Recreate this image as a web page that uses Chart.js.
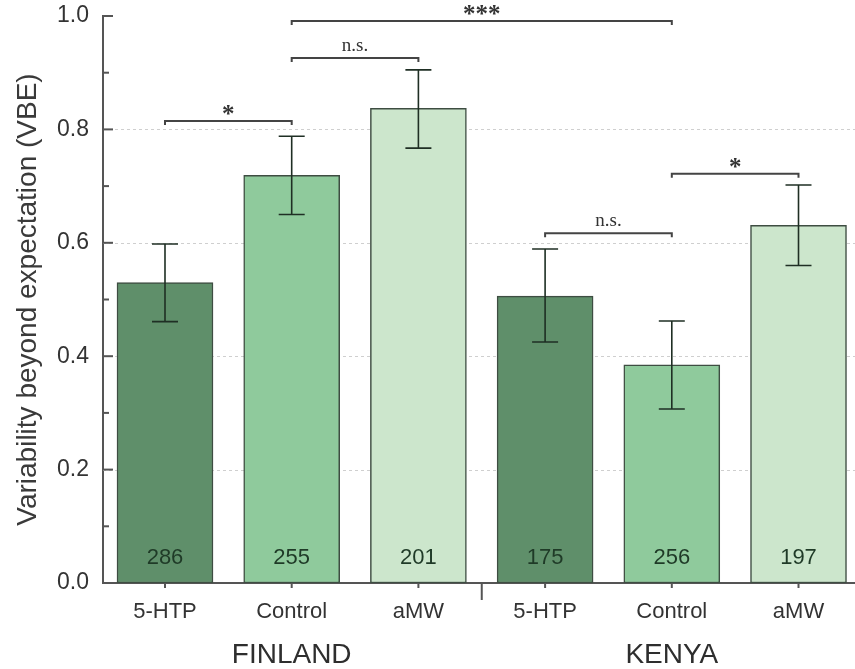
<!DOCTYPE html>
<html>
<head>
<meta charset="utf-8">
<script src="https://cdn.jsdelivr.net/npm/chart.js@4"></script>
<style>
  html, body { margin: 0; padding: 0; background: #fff; }
  #c { display: block; }
</style>
</head>
<body>
<canvas id="c" width="855" height="669"></canvas>
<script>
// Treatment categories within each country
const categories = ['5-HTP', 'Control', 'aMW', '5-HTP', 'Control', 'aMW'];
const groups = ['FINLAND', 'KENYA'];
const groupCenters = [1, 4];           // category index under which each country name sits

// Variability beyond expectation (mean) with error bar limits
const vbe     = [0.530, 0.719, 0.837, 0.506, 0.385, 0.631];
const errLow  = [0.461, 0.650, 0.767, 0.425, 0.307, 0.560];
const errHigh = [0.598, 0.788, 0.905, 0.589, 0.462, 0.702];

// Sample sizes printed inside the bars
const sampleSizes = [286, 255, 201, 175, 256, 197];

// Bar fill per treatment
const barColors = ['#5f8f6a', '#8fca9c', '#cce6cc', '#5f8f6a', '#8fca9c', '#cce6cc'];

// Significance brackets
const bracketFrom  = [0, 1, 1, 3, 4];
const bracketTo    = [1, 2, 4, 4, 5];
const bracketLevel = [0.815, 0.926, 0.991, 0.617, 0.722];
const bracketText  = ['*', 'n.s.', '***', 'n.s.', '*'];

// Y axis ticks
const yTicks = [0, 0.2, 0.4, 0.6, 0.8, 1.0];
const yMinorTicks = [0.1, 0.3, 0.5, 0.7, 0.9];

const SANS = "'Liberation Sans', Arial, sans-serif";
const SERIF = "'Liberation Serif', 'Times New Roman', serif";

const decorations = {
  id: 'decorations',
  beforeDatasetsDraw(chart) {
    const { ctx, chartArea: a, scales: { y } } = chart;
    ctx.save();
    ctx.strokeStyle = '#cfcfcf';
    ctx.lineWidth = 1;
    ctx.setLineDash([3, 3]);
    yTicks.filter(v => v > 0 && v < 1).forEach(v => {
      const py = Math.round(y.getPixelForValue(v)) + 0.5;
      ctx.beginPath();
      ctx.moveTo(a.left, py);
      ctx.lineTo(a.right, py);
      ctx.stroke();
    });
    ctx.restore();
  },
  afterDatasetsDraw(chart) {
    const { ctx, chartArea: a, scales: { x, y } } = chart;
    ctx.save();

    // error bars
    ctx.strokeStyle = '#1f2f24';
    ctx.lineWidth = 1.6;
    vbe.forEach((v, i) => {
      const px = x.getPixelForValue(i);
      const top = y.getPixelForValue(errHigh[i]);
      const bot = y.getPixelForValue(errLow[i]);
      ctx.beginPath();
      ctx.moveTo(px, top); ctx.lineTo(px, bot);
      ctx.moveTo(px - 13, top); ctx.lineTo(px + 13, top);
      ctx.moveTo(px - 13, bot); ctx.lineTo(px + 13, bot);
      ctx.stroke();
    });

    // sample sizes
    ctx.fillStyle = '#1f3a27';
    ctx.font = '22px ' + SANS;
    ctx.textAlign = 'center';
    ctx.textBaseline = 'middle';
    sampleSizes.forEach((n, i) => {
      ctx.fillText(String(n), x.getPixelForValue(i), a.bottom - 25);
    });

    // significance brackets
    ctx.strokeStyle = '#444';
    ctx.lineWidth = 2;
    ctx.fillStyle = '#333';
    bracketText.forEach((t, k) => {
      const x1 = x.getPixelForValue(bracketFrom[k]);
      const x2 = x.getPixelForValue(bracketTo[k]);
      const py = y.getPixelForValue(bracketLevel[k]);
      ctx.beginPath();
      ctx.moveTo(x1, py + 4); ctx.lineTo(x1, py); ctx.lineTo(x2, py); ctx.lineTo(x2, py + 4);
      ctx.stroke();
      const star = t.indexOf('*') >= 0;
      ctx.font = star ? 'bold 25px ' + SERIF : '19px ' + SERIF;
      ctx.textBaseline = 'alphabetic';
      ctx.fillText(t, (x1 + x2) / 2, star ? py + 1 : py - 7);
    });

    // inward y ticks
    ctx.strokeStyle = '#555';
    ctx.lineWidth = 2;
    yTicks.forEach(v => {
      const py = y.getPixelForValue(v);
      ctx.beginPath(); ctx.moveTo(a.left, py); ctx.lineTo(a.left + 10, py); ctx.stroke();
    });
    yMinorTicks.forEach(v => {
      const py = y.getPixelForValue(v);
      ctx.beginPath(); ctx.moveTo(a.left, py); ctx.lineTo(a.left + 6, py); ctx.stroke();
    });

    // outward x ticks and the country separator
    categories.forEach((c, i) => {
      const px = x.getPixelForValue(i);
      ctx.beginPath(); ctx.moveTo(px, a.bottom); ctx.lineTo(px, a.bottom + 5); ctx.stroke();
    });
    const sep = x.getPixelForValue(2.5);
    ctx.beginPath(); ctx.moveTo(sep, a.bottom); ctx.lineTo(sep, a.bottom + 17); ctx.stroke();

    // country names
    ctx.fillStyle = '#2e2e2e';
    ctx.font = '28px ' + SANS;
    ctx.textBaseline = 'middle';
    groups.forEach((g, k) => {
      ctx.fillText(g, x.getPixelForValue(groupCenters[k]), a.bottom + 72);
    });

    // y axis title
    ctx.save();
    ctx.translate(28, (a.top + a.bottom) / 2);
    ctx.rotate(-Math.PI / 2);
    ctx.fillStyle = '#3a3a3a';
    ctx.font = '28px ' + SANS;
    ctx.fillText('Variability beyond expectation (VBE)', 0, 0);
    ctx.restore();

    ctx.restore();
  }
};

new Chart(document.getElementById('c'), {
  type: 'bar',
  data: {
    datasets: [{
      data: vbe.map((v, i) => ({ x: i, y: v })),
      backgroundColor: barColors,
      borderColor: '#3e4d42',
      borderWidth: 1.5,
      borderSkipped: false,
      barThickness: 96
    }]
  },
  options: {
    responsive: false,
    devicePixelRatio: 1,
    animation: false,
    layout: { padding: { top: 16, right: 0, bottom: 0, left: 0 } },
    plugins: { legend: { display: false }, tooltip: { enabled: false } },
    scales: {
      x: {
        type: 'linear',
        offset: false,
        min: -0.4893,
        max: 5.4459,
        afterBuildTicks: s => { s.ticks = categories.map((c, i) => ({ value: i })); },
        afterFit: s => { s.height = 86; s.paddingLeft = 0; s.paddingRight = 0; },
        grid: { display: false, drawTicks: false, offset: false },
        border: { display: true, color: '#555', width: 2 },
        ticks: {
          autoSkip: false, maxRotation: 0, padding: 16,
          color: '#333',
          font: { family: SANS, size: 22 },
          callback: v => categories[v]
        }
      },
      y: {
        min: 0,
        max: 1,
        afterBuildTicks: s => { s.ticks = yTicks.map(v => ({ value: v })); },
        afterFit: s => { s.width = 103; s.paddingTop = 0; s.paddingBottom = 0; },
        grid: { display: false, drawTicks: false },
        border: { display: true, color: '#555', width: 2 },
        ticks: {
          padding: 14,
          color: '#333',
          font: { family: SANS, size: 23 },
          callback: v => Number(v).toFixed(1)
        }
      }
    }
  },
  plugins: [decorations]
});
</script>
</body>
</html>
